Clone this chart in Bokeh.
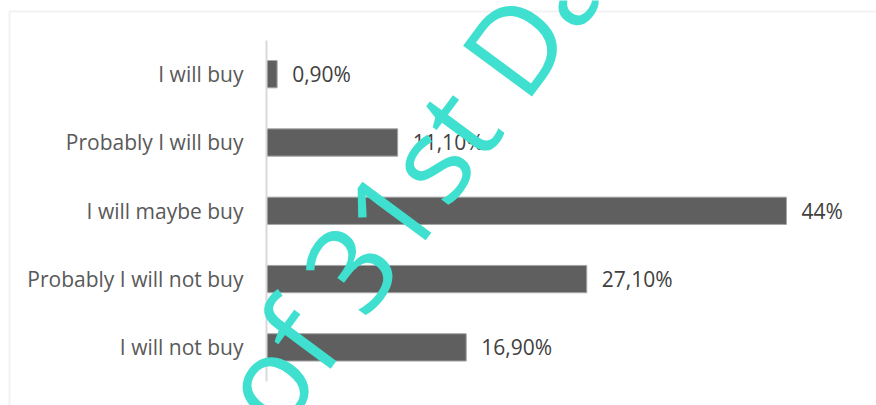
from bokeh.plotting import figure
from bokeh.models import (ColumnDataSource, Range1d, Label, FixedTicker,
                          BoxAnnotation)
from bokeh.embed import file_html
from bokeh.resources import INLINE
from bokeh.core.properties import value

# data (top to bottom in the chart)
categories = ["I will buy", "Probably I will buy", "I will maybe buy",
              "Probably I will not buy", "I will not buy"]
percentages = [0.9, 11.1, 44.0, 27.1, 16.9]


def fmt(v):
    if float(v).is_integer():
        return f"{int(v)}%"
    return f"{v:.2f}%".replace(".", ",")


labels = [fmt(v) for v in percentages]
n = len(categories)
ypos = [float(n - 1 - i) for i in range(n)]  # first category on top

src = ColumnDataSource(dict(y=ypos, cat=categories, val=percentages, lab=labels))

FONT = "Open Sans"

p = figure(
    width=876, height=405,
    y_range=Range1d(-0.851, 5.079),
    x_range=Range1d(-22.508, 51.617),
    output_backend="svg", toolbar_location=None,
    min_border_left=0, min_border_right=0,
    min_border_top=0, min_border_bottom=0,
)
p.outline_line_color = None
p.background_fill_color = "white"
p.border_fill_color = "white"
p.grid.visible = False

# chart-area border (top and left visible)
p.add_layout(BoxAnnotation(left=9, right=2000, top=394, bottom=-500,
                           left_units="screen", right_units="screen",
                           top_units="screen", bottom_units="screen",
                           fill_color=None, line_color="#d4d4d4", line_width=2))

p.hbar(y="y", right="val", left=0, height=0.4, source=src,
       fill_color="#5f5f5f", line_color="#a6a6a6", line_width=1)

p.text(x="val", y="y", text="lab", source=src, x_offset=15,
       text_align="left", text_baseline="middle",
       text_font=value(FONT), text_font_size="21px", text_color="#404040")

p.xaxis.visible = False
yax = p.yaxis[0]
yax.fixed_location = 0
yax.bounds = (-0.5, n - 0.5)
yax.ticker = FixedTicker(ticks=ypos)
yax.major_label_overrides = {y: c for y, c in zip(ypos, categories)}
yax.axis_line_color = "#d9d9d9"
yax.axis_line_width = 2
yax.major_tick_line_color = None
yax.minor_tick_line_color = None
yax.major_label_standoff = 17
yax.major_label_text_font = FONT
yax.major_label_text_font_size = "21px"
yax.major_label_text_color = "#595959"

# watermark
wm = Label(x=242, y=-4, x_units="screen", y_units="screen",
           text="of 31st Da", angle=53.5, angle_units="deg",
           text_font=FONT, text_font_size="120px", text_color="#40e0d0",
           text_align="left", text_baseline="alphabetic")
p.add_layout(wm)

open("out.html", "w").write(file_html(p, INLINE))
